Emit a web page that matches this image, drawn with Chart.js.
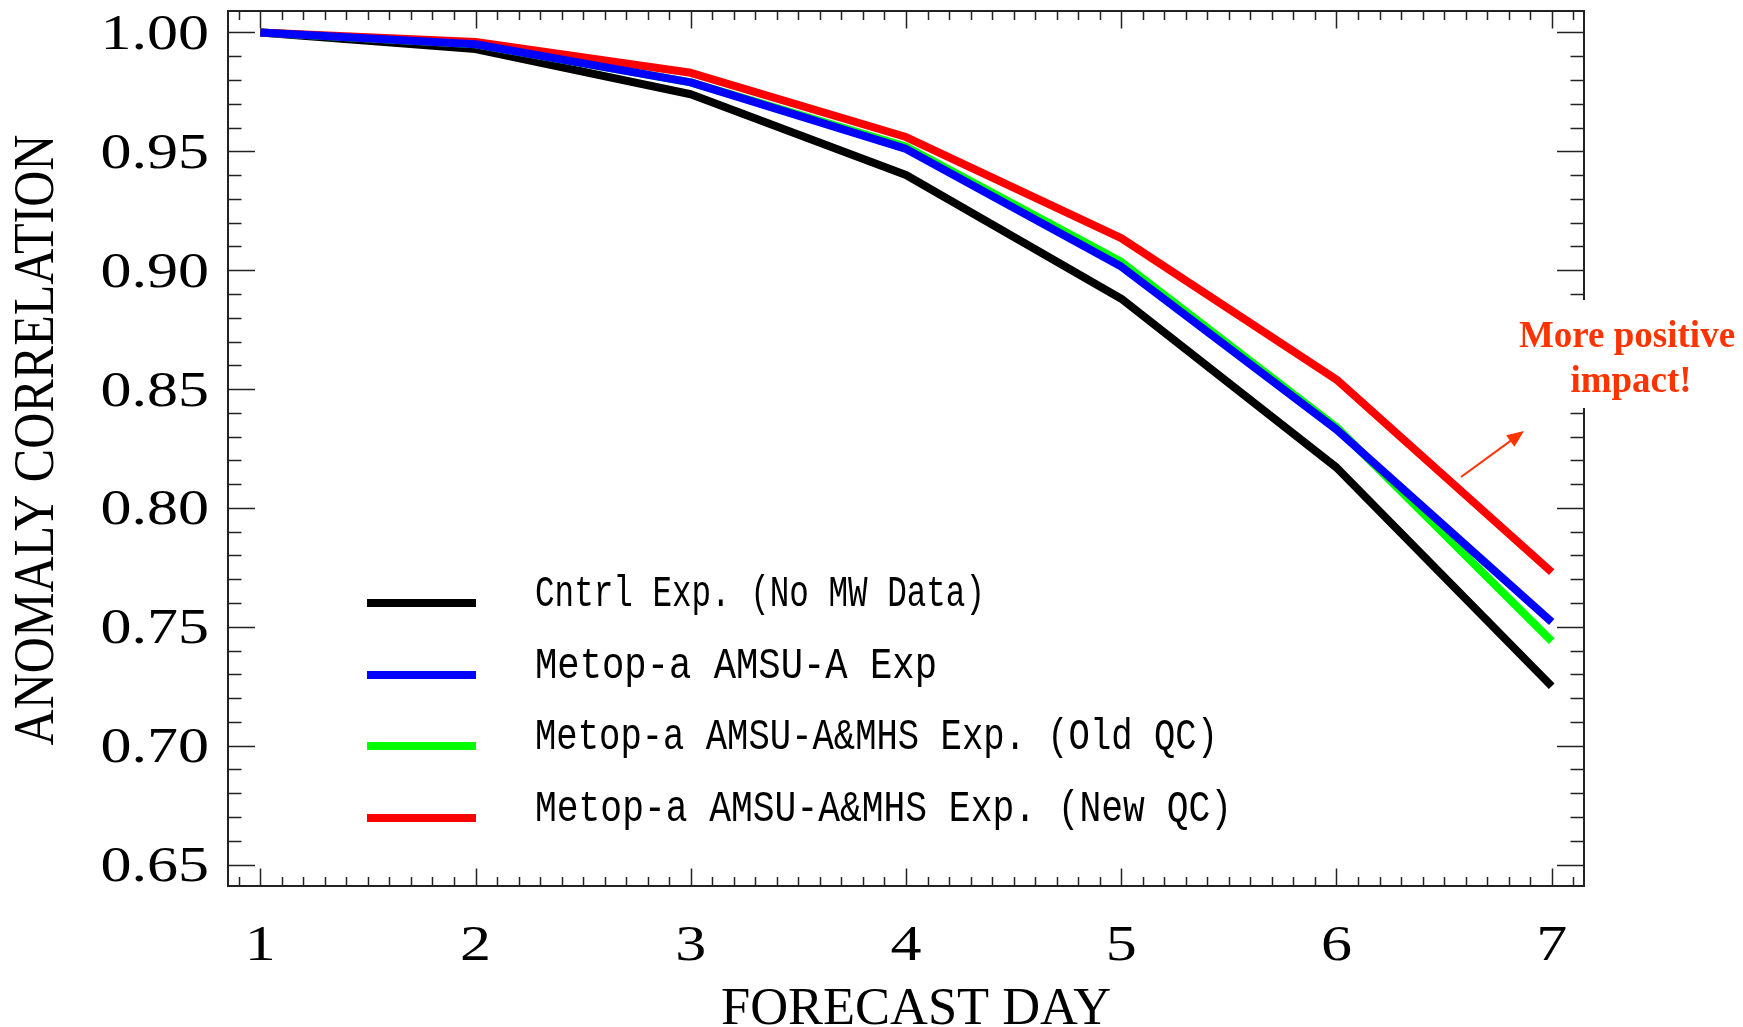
<html>
<head>
<style>
  body { margin: 0; background: #fff; overflow: hidden; }
</style>
</head>
<body>
  <canvas id="myChart" width="1743" height="1027"></canvas>

  <script src="https://cdn.jsdelivr.net/npm/chart.js"></script>

  <script>
    // forecast days and anomaly correlation per experiment
    const days = [1, 2, 3, 4, 5, 6, 7];
    const cntrl = [1.000, 0.993, 0.974, 0.940, 0.888, 0.817, 0.725];
    const amsua = [1.000, 0.995, 0.979, 0.951, 0.9015, 0.833, 0.752];
    const amsuaMhsOld = [1.000, 0.995, 0.979, 0.952, 0.9035, 0.834, 0.744];
    const amsuaMhsNew = [1.000, 0.996, 0.983, 0.956, 0.9135, 0.854, 0.773];

    const xTicks = [1, 2, 3, 4, 5, 6, 7];
    const yTicks = ['0.65', '0.70', '0.75', '0.80', '0.85', '0.90', '0.95', '1.00'];

    const seriesNames = [
      'Cntrl Exp. (No MW Data)',
      'Metop-a AMSU-A Exp',
      'Metop-a AMSU-A&MHS Exp. (Old QC)',
      'Metop-a AMSU-A&MHS Exp. (New QC)'
    ];
    const seriesColors = ['#000000', '#0000ff', '#00ff00', '#ff0000'];
    // width each legend text takes in the original (hershey font, not monospaced)
    const legendWidths = [450, 402, 683, 697];

    const pts = arr => arr.map((v, i) => ({ x: days[i], y: v }));

    // draw text with a stretch, IDL fonts are wider than the installed ones
    function txt(c, s, x, y, font, sx, sy, align, rot) {
      c.save();
      c.translate(x, y);
      if (rot) c.rotate(rot);
      c.scale(sx, sy);
      c.font = font;
      c.textAlign = align || 'center';
      c.textBaseline = 'alphabetic';
      c.fillText(s, 0, 0);
      c.restore();
    }

    const idlAxes = {
      id: 'idlAxes',
      beforeDraw(chart) {
        const c = chart.ctx;
        c.save();
        c.fillStyle = '#fff';
        c.fillRect(0, 0, chart.width, chart.height);
        c.restore();
      },
      afterDatasetsDraw(chart) {
        const c = chart.ctx;
        const a = chart.chartArea;
        const xs = chart.scales.x, ys = chart.scales.y;
        const w = a.right - a.left, h = a.bottom - a.top;

        c.save();
        c.strokeStyle = '#222';
        c.lineWidth = 2;
        c.strokeRect(a.left, a.top, w, h);

        // x ticks, top and bottom, pointing in
        c.lineWidth = 1.5;
        c.beginPath();
        for (let k = 9; k <= 71; k++) {
          const px = Math.round(xs.getPixelForValue(k / 10)) + 0.5;
          const len = (k % 10 === 0) ? 17.5 : 9;
          c.moveTo(px, a.bottom); c.lineTo(px, a.bottom - len);
          c.moveTo(px, a.top); c.lineTo(px, a.top + len);
        }
        // y ticks, left and right
        for (let k = 65; k <= 100; k++) {
          const py = Math.round(ys.getPixelForValue(k / 100)) + 0.5;
          const len = (k % 5 === 0) ? 27 : 13.5;
          c.moveTo(a.left, py); c.lineTo(a.left + len, py);
          c.moveTo(a.right, py); c.lineTo(a.right - len, py);
        }
        c.stroke();
        c.restore();
      },
      afterDraw(chart) {
        const c = chart.ctx;
        const xs = chart.scales.x, ys = chart.scales.y;
        c.save();
        c.fillStyle = '#000';

        // tick labels
        yTicks.forEach(t => {
          txt(c, t, 209, ys.getPixelForValue(parseFloat(t)) + 16.5, '50px "Liberation Serif"', 1.24, 1, 'right');
        });
        xTicks.forEach(t => {
          txt(c, String(t), xs.getPixelForValue(t), 960, '50px "Liberation Serif"', 1.24, 1, 'center');
        });

        // axis titles
        c.font = '52px "Liberation Serif"';
        const fw = c.measureText('FORECAST DAY').width;
        txt(c, 'FORECAST DAY', 916, 1024, '52px "Liberation Serif"', 390 / fw, 1, 'center');
        c.font = '56px "Liberation Serif"';
        const yw = c.measureText('ANOMALY CORRELATION').width;
        txt(c, 'ANOMALY CORRELATION', 53, 440, '56px "Liberation Serif"', 611 / yw, 1, 'center', -Math.PI / 2);

        // legend
        const rows = [603, 675, 746, 818];
        const lf = '38px "Liberation Mono"';
        seriesNames.forEach((name, i) => {
          c.strokeStyle = seriesColors[i];
          c.lineWidth = 8;
          c.beginPath();
          c.moveTo(367, rows[i]);
          c.lineTo(476, rows[i]);
          c.stroke();
          c.fillStyle = '#000';
          c.font = lf;
          const tw = c.measureText(name).width;
          txt(c, name, 535, rows[i] + 3, lf, legendWidths[i] / tw, 1.15, 'left');
        });

        // annotation with arrow
        c.fillStyle = '#fff';
        c.fillRect(1512, 300, 231, 108);
        const red = '#ff3300';
        c.fillStyle = red;
        txt(c, 'More positive', 1627, 347, 'bold 37px "Liberation Serif"', 1, 1, 'center');
        txt(c, 'impact!', 1631, 392, 'bold 37px "Liberation Serif"', 1, 1, 'center');

        const x0 = 1461, y0 = 477, x1 = 1524, y1 = 431;
        const ang = Math.atan2(y1 - y0, x1 - x0);
        c.strokeStyle = red;
        c.lineWidth = 2;
        c.beginPath();
        c.moveTo(x0, y0);
        c.lineTo(x1 - 12 * Math.cos(ang), y1 - 12 * Math.sin(ang));
        c.stroke();
        c.beginPath();
        c.moveTo(x1, y1);
        c.lineTo(x1 - 17 * Math.cos(ang) + 7 * Math.sin(ang), y1 - 17 * Math.sin(ang) - 7 * Math.cos(ang));
        c.lineTo(x1 - 17 * Math.cos(ang) - 7 * Math.sin(ang), y1 - 17 * Math.sin(ang) + 7 * Math.cos(ang));
        c.closePath();
        c.fill();
        c.restore();
      }
    };

    const ds = (i, arr, order) => ({
      label: seriesNames[i],
      data: pts(arr),
      borderColor: seriesColors[i],
      borderWidth: 8,
      pointRadius: 0,
      tension: 0,
      borderJoinStyle: 'round',
      borderCapStyle: 'butt',
      fill: false,
      order: order
    });

    const ctx = document.getElementById('myChart');
    const chart = new Chart(ctx, {
      type: 'line',
      data: {
        datasets: [
          ds(0, cntrl, 3),
          ds(1, amsua, 0),
          ds(2, amsuaMhsOld, 2),
          ds(3, amsuaMhsNew, 1)
        ]
      },
      options: {
        responsive: false,
        devicePixelRatio: 1,
        animation: false,
        layout: { padding: { left: 228, right: 159, top: 11, bottom: 141 } },
        scales: {
          x: { type: 'linear', min: 0.85, max: 7.15, display: false },
          y: { type: 'linear', min: 0.641, max: 1.009, display: false }
        },
        plugins: { legend: { display: false }, tooltip: { enabled: false } }
      },
      plugins: [idlAxes]
    });
  </script>
</body>
</html>
